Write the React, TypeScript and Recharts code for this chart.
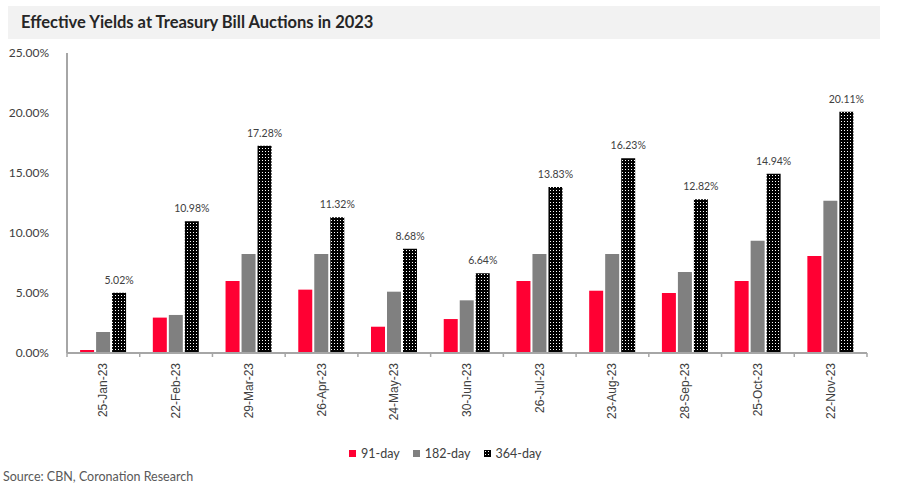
import { BarChart, Bar, XAxis, YAxis, LabelList } from "recharts";

const dates = [
  "25-Jan-23", "22-Feb-23", "29-Mar-23", "26-Apr-23", "24-May-23", "30-Jun-23",
  "26-Jul-23", "23-Aug-23", "28-Sep-23", "25-Oct-23", "22-Nov-23",
];
const day91 = [0.25, 2.95, 6.0, 5.28, 2.19, 2.83, 6.0, 5.19, 5.0, 6.0, 8.08];
const day182 = [1.75, 3.17, 8.25, 8.25, 5.11, 4.39, 8.25, 8.25, 6.75, 9.36, 12.69];
const day364 = [5.02, 10.98, 17.28, 11.32, 8.68, 6.64, 13.83, 16.23, 12.82, 14.94, 20.11];
const yTicks = [0, 5, 10, 15, 20, 25];

const data = dates.map((date, i) => ({
  date,
  d91: day91[i],
  d182: day182[i],
  d364: day364[i],
}));

const RED = "#ff0033";
const GREY = "#808080";
const AXIS = "#a6a6a6";
const TEXT = "#404040";
const AXIS_Y = 353;

// x ticks: Excel puts the marks between categories, so draw them at band edges
const DateTick = (props: any) => {
  const { x, y, payload, index, width, visibleTicksCount } = props;
  const half = payload.offset || (width && visibleTicksCount ? width / visibleTicksCount / 2 : 36.36);
  return (
    <g>
      {index === 0 && (
        <line x1={x - half} x2={x - half} y1={AXIS_Y} y2={AXIS_Y + 4} stroke={AXIS} strokeWidth={1.5} />
      )}
      <line x1={x + half} x2={x + half} y1={AXIS_Y} y2={AXIS_Y + 4} stroke={AXIS} strokeWidth={1.5} />
      <text
        x={x}
        y={y}
        transform={`rotate(-90, ${x}, ${y})`}
        textAnchor="end"
        dy={4}
        dx={-2}
        fontSize={12}
        fontFamily="'Liberation Sans', Arial, sans-serif"
        fill={TEXT}
      >
        {payload.value}
      </text>
    </g>
  );
};

const legendItems = [
  { name: "91-day", fill: RED },
  { name: "182-day", fill: GREY },
  { name: "364-day", fill: "url(#dots)" },
];

export default function App() {
  return (
    <div
      style={{
        position: "absolute",
        left: 0,
        top: 0,
        width: 900,
        height: 491,
        background: "#fff",
        fontFamily: "Lato, sans-serif",
      }}
    >
      <div
        style={{
          position: "absolute",
          left: 8,
          top: 6,
          width: 872,
          height: 33,
          background: "#f2f2f2",
          fontWeight: 700,
          fontSize: 16.5,
          color: "#262626",
          lineHeight: "33px",
          paddingLeft: 13,
          boxSizing: "border-box",
        }}
      >
        Effective Yields at Treasury Bill Auctions in 2023
      </div>

      <BarChart
        width={900}
        height={491}
        data={data}
        margin={{ top: 53, right: 33, left: 0, bottom: 58 }}
        barGap={2}
        barCategoryGap="18%"
        style={{ position: "absolute", left: 0, top: 0 }}
      >
        <defs>
          <pattern id="dots" width={3} height={3} patternUnits="userSpaceOnUse">
            <rect width={3} height={3} fill="#000" />
            <rect x={1} y={1} width={1} height={1} fill="#fff" />
          </pattern>
        </defs>
        <XAxis
          dataKey="date"
          height={80}
          interval={0}
          tickLine={false}
          axisLine={{ stroke: AXIS, strokeWidth: 2 }}
          tick={<DateTick />}
        />
        <YAxis
          width={67}
          domain={[0, 25]}
          ticks={yTicks}
          tickFormatter={(v: number) => `${v.toFixed(2)}%`}
          tickLine={false}
          axisLine={{ stroke: AXIS, strokeWidth: 2 }}
          tick={{ fontSize: 12, fill: TEXT, fontFamily: "Lato, sans-serif" }}
          tickMargin={12}
        />
        <Bar dataKey="d91" name="91-day" fill={RED} isAnimationActive={false} />
        <Bar dataKey="d182" name="182-day" fill={GREY} isAnimationActive={false} />
        <Bar dataKey="d364" name="364-day" fill="url(#dots)" isAnimationActive={false}>
          <LabelList
            dataKey="d364"
            position="top"
            offset={9}
            formatter={(v: any) => `${Number(v).toFixed(2)}%`}
            style={{ fontSize: 10.5, fill: TEXT, fontFamily: "Lato, sans-serif" }}
          />
        </Bar>
      </BarChart>

      <div
        style={{
          position: "absolute",
          left: 349,
          top: 446,
          display: "flex",
          gap: 13,
          fontSize: 12.5,
          color: TEXT,
        }}
      >
        {legendItems.map((it) => (
          <div key={it.name} style={{ display: "flex", alignItems: "center" }}>
            <svg width={10} height={8} style={{ marginRight: 2 }}>
              <rect x={0} y={0} width={7} height={7} fill={it.fill} />
            </svg>
            {it.name}
          </div>
        ))}
      </div>

      <div
        style={{
          position: "absolute",
          left: 3,
          top: 469,
          fontSize: 12.5,
          color: "#595959",
        }}
      >
        Source: CBN, Coronation Research
      </div>
    </div>
  );
}
